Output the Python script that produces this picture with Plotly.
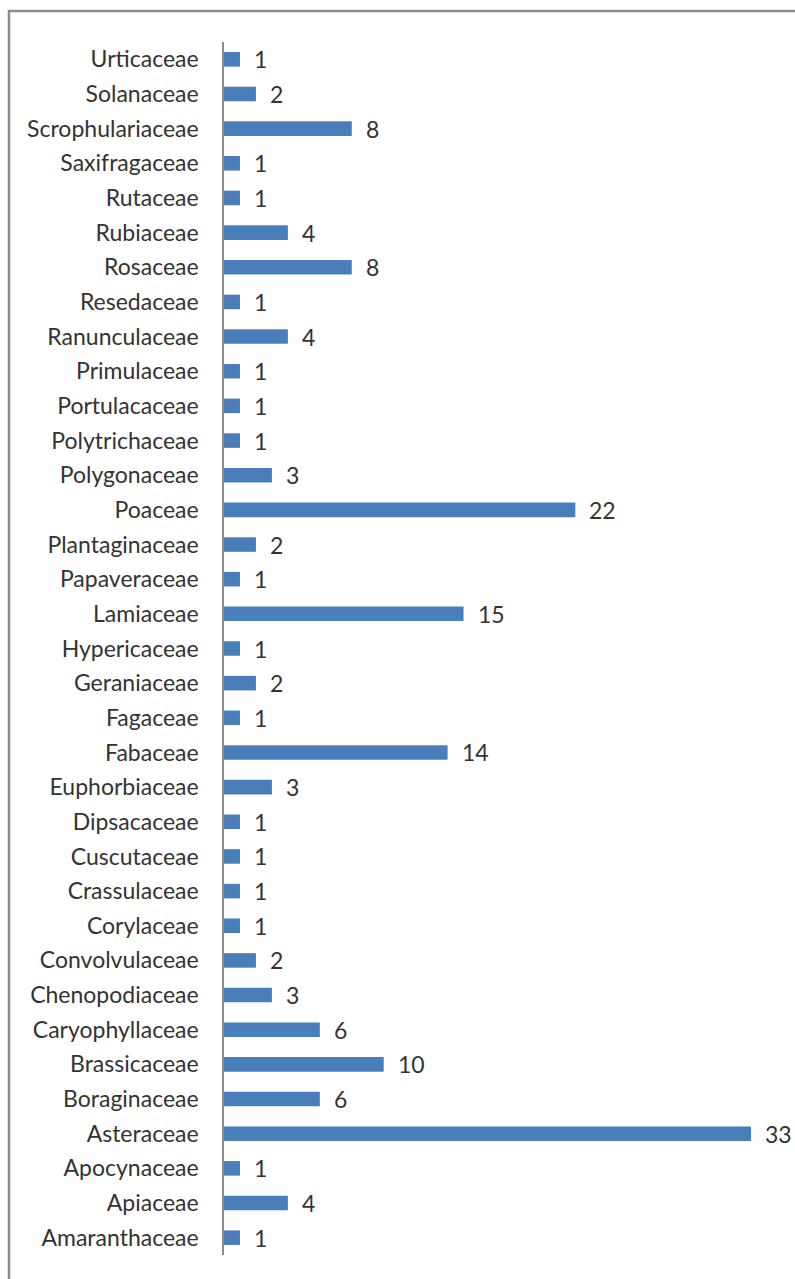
import plotly.graph_objects as go

# Plant families (bottom to top) and number of species in each
families = [
    "Amaranthaceae", "Apiaceae", "Apocynaceae", "Asteraceae", "Boraginaceae",
    "Brassicaceae", "Caryophyllaceae", "Chenopodiaceae", "Convolvulaceae",
    "Corylaceae", "Crassulaceae", "Cuscutaceae", "Dipsacaceae", "Euphorbiaceae",
    "Fabaceae", "Fagaceae", "Geraniaceae", "Hypericaceae", "Lamiaceae",
    "Papaveraceae", "Plantaginaceae", "Poaceae", "Polygonaceae",
    "Polytrichaceae", "Portulacaceae", "Primulaceae", "Ranunculaceae",
    "Resedaceae", "Rosaceae", "Rubiaceae", "Rutaceae", "Saxifragaceae",
    "Scrophulariaceae", "Solanaceae", "Urticaceae",
]
species = [
    1, 4, 1, 33, 6,
    10, 6, 3, 2,
    1, 1, 1, 1, 3,
    14, 1, 2, 1, 15,
    1, 2, 22, 3,
    1, 1, 1, 4,
    1, 8, 4, 1, 1,
    8, 2, 1,
]

W, H = 795, 1279
ML, MR, MT, MB = 224, 0, 42, 24
plot_w = W - ML - MR
plot_h = H - MT - MB

FONT = "Lato, Carlito, 'Open Sans', sans-serif"
TEXT_COLOR = "#333333"
FS = 23

fig = go.Figure(
    go.Bar(
        x=species,
        y=families,
        orientation="h",
        width=0.42,
        marker=dict(color="#4a7ebb", line=dict(width=0)),
        hoverinfo="x+y",
    )
)

# value labels to the right of each bar
for fam, val in zip(families, species):
    fig.add_annotation(
        x=val, y=fam, text=str(val), showarrow=False,
        xanchor="left", yanchor="middle", xshift=12,
        font=dict(family=FONT, size=FS, color=TEXT_COLOR),
    )

# outer chart frame (right and bottom edges fall outside the page)
fx0 = (9 - ML) / plot_w
fy1 = 1 + (MT - 11) / plot_h
fig.add_shape(
    type="rect", xref="paper", yref="paper",
    x0=fx0, x1=1.2, y0=-0.2, y1=fy1,
    line=dict(color="#8c8c8c", width=2.5),
    fillcolor="rgba(0,0,0,0)", layer="below",
)

fig.update_layout(
    width=W, height=H,
    margin=dict(l=ML, r=MR, t=MT, b=MB),
    paper_bgcolor="white",
    plot_bgcolor="white",
    showlegend=False,
    bargap=0.58,
    font=dict(family=FONT, size=FS, color=TEXT_COLOR),
    xaxis=dict(
        range=[0, plot_w / ((751 - 224) / 33)],
        visible=False,
        fixedrange=True,
    ),
    yaxis=dict(
        categoryorder="array",
        categoryarray=families,
        range=[-0.5, len(families) - 0.5],
        showline=True,
        linecolor="#8c8c8c",
        linewidth=1.5,
        showgrid=False,
        zeroline=False,
        ticks="",
        ticklabelstandoff=19,
        tickfont=dict(family=FONT, size=FS, color=TEXT_COLOR),
        fixedrange=True,
    ),
)

fig.write_html("out.html")
